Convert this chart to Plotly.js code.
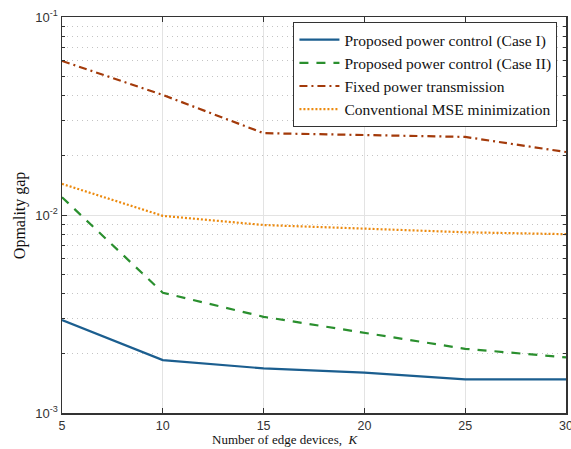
<!DOCTYPE html>
<html>
<head>
<meta charset="utf-8">
<script src="https://cdn.plot.ly/plotly-3.0.1.min.js"></script>
<style>html,body{margin:0;padding:0;background:#fff;}#chart{width:571px;height:449px;}</style>
</head>
<body>
<div id="chart"></div>
<script>
const K = [5, 10, 15, 20, 25, 30];
const caseI = [0.00295, 0.00185, 0.00168, 0.00160, 0.00148, 0.00148];
const caseII = [0.0123, 0.00405, 0.00306, 0.00253, 0.00211, 0.00191];
const fixedPower = [0.0600, 0.0404, 0.0259, 0.0253, 0.0248, 0.0208];
const conventionalMSE = [0.01436, 0.0099, 0.0089, 0.00857, 0.00818, 0.0080];
const seriesNames = [
  'Proposed power control (Case I)',
  'Proposed power control (Case II)',
  'Fixed power transmission',
  'Conventional MSE minimization'
];
const xTicks = [5, 10, 15, 20, 25, 30];
const yTicks = [0.001, 0.01, 0.1];
const yTickText = ['10<sup>-3</sup>', '10<sup>-2</sup>', '10<sup>-1</sup>'];
const xTitle = 'Number of edge devices,  <i>K</i>';
const yTitle = 'Opmality gap';

const traces = [
  {x: K, y: caseI, name: seriesNames[0], mode: 'lines', line: {color: '#1b5e8f', width: 2.2, dash: 'solid'}},
  {x: K, y: caseII, name: seriesNames[1], mode: 'lines', line: {color: '#2a8f2e', width: 2.2, dash: '9px,8px'}},
  {x: K, y: fixedPower, name: seriesNames[2], mode: 'lines', line: {color: '#a33a0a', width: 2.2, dash: '8px,4px,2px,4px'}},
  {x: K, y: conventionalMSE, name: seriesNames[3], mode: 'lines', line: {color: '#ec8a0e', width: 2.2, dash: '2px,2px'}}
];

const serif = 'Liberation Serif, Times New Roman, serif';
const sans = 'Liberation Sans, Arial, sans-serif';

const layout = {
  width: 571, height: 449,
  margin: {l: 62, r: 5, t: 17, b: 36},
  paper_bgcolor: '#fff', plot_bgcolor: '#fff',
  showlegend: true,
  legend: {
    x: 0.983, y: 0.987, xanchor: 'right', yanchor: 'top',
    bgcolor: '#fff', bordercolor: '#333', borderwidth: 1,
    font: {family: serif, size: 15.5, color: '#111'},
    tracegroupgap: 0, itemwidth: 40
  },
  xaxis: {
    range: [5, 30], tickvals: xTicks, ticktext: xTicks.map(String),
    ticks: 'inside', ticklen: 5, tickcolor: '#333',
    showline: true, linecolor: '#333', linewidth: 1.5, mirror: 'ticks',
    showgrid: true, gridcolor: '#e3e3e3', gridwidth: 1,
    zeroline: false, ticklabeloverflow: 'allow',
    tickfont: {family: sans, size: 12.5, color: '#333'}
  },
  yaxis: {
    type: 'log', range: [-3, -1],
    tickvals: yTicks, ticktext: yTickText,
    ticks: 'inside', ticklen: 5, tickcolor: '#333',
    showline: true, linecolor: '#333', linewidth: 1.5, mirror: 'ticks',
    showgrid: true, gridcolor: '#e3e3e3', gridwidth: 1,
    zeroline: false, ticklabeloverflow: 'allow',
    minor: {dtick: 'D1', ticks: 'inside', ticklen: 3, tickcolor: '#333',
      showgrid: true, gridcolor: '#c4c4c4', griddash: '1px,4px', gridwidth: 1},
    tickfont: {family: sans, size: 13, color: '#333'}
  },
  annotations: [
    {text: xTitle, xref: 'paper', yref: 'paper', x: 0.442, y: -0.068,
      xanchor: 'center', yanchor: 'middle', showarrow: false,
      font: {family: serif, size: 13, color: '#111'}},
    {text: yTitle, xref: 'paper', yref: 'paper', x: -0.083, y: 0.5,
      xanchor: 'center', yanchor: 'middle', textangle: -90, showarrow: false,
      font: {family: serif, size: 16, color: '#111'}}
  ]
};

Plotly.newPlot('chart', traces, layout, {displayModeBar: false, staticPlot: true});
</script>
</body>
</html>
